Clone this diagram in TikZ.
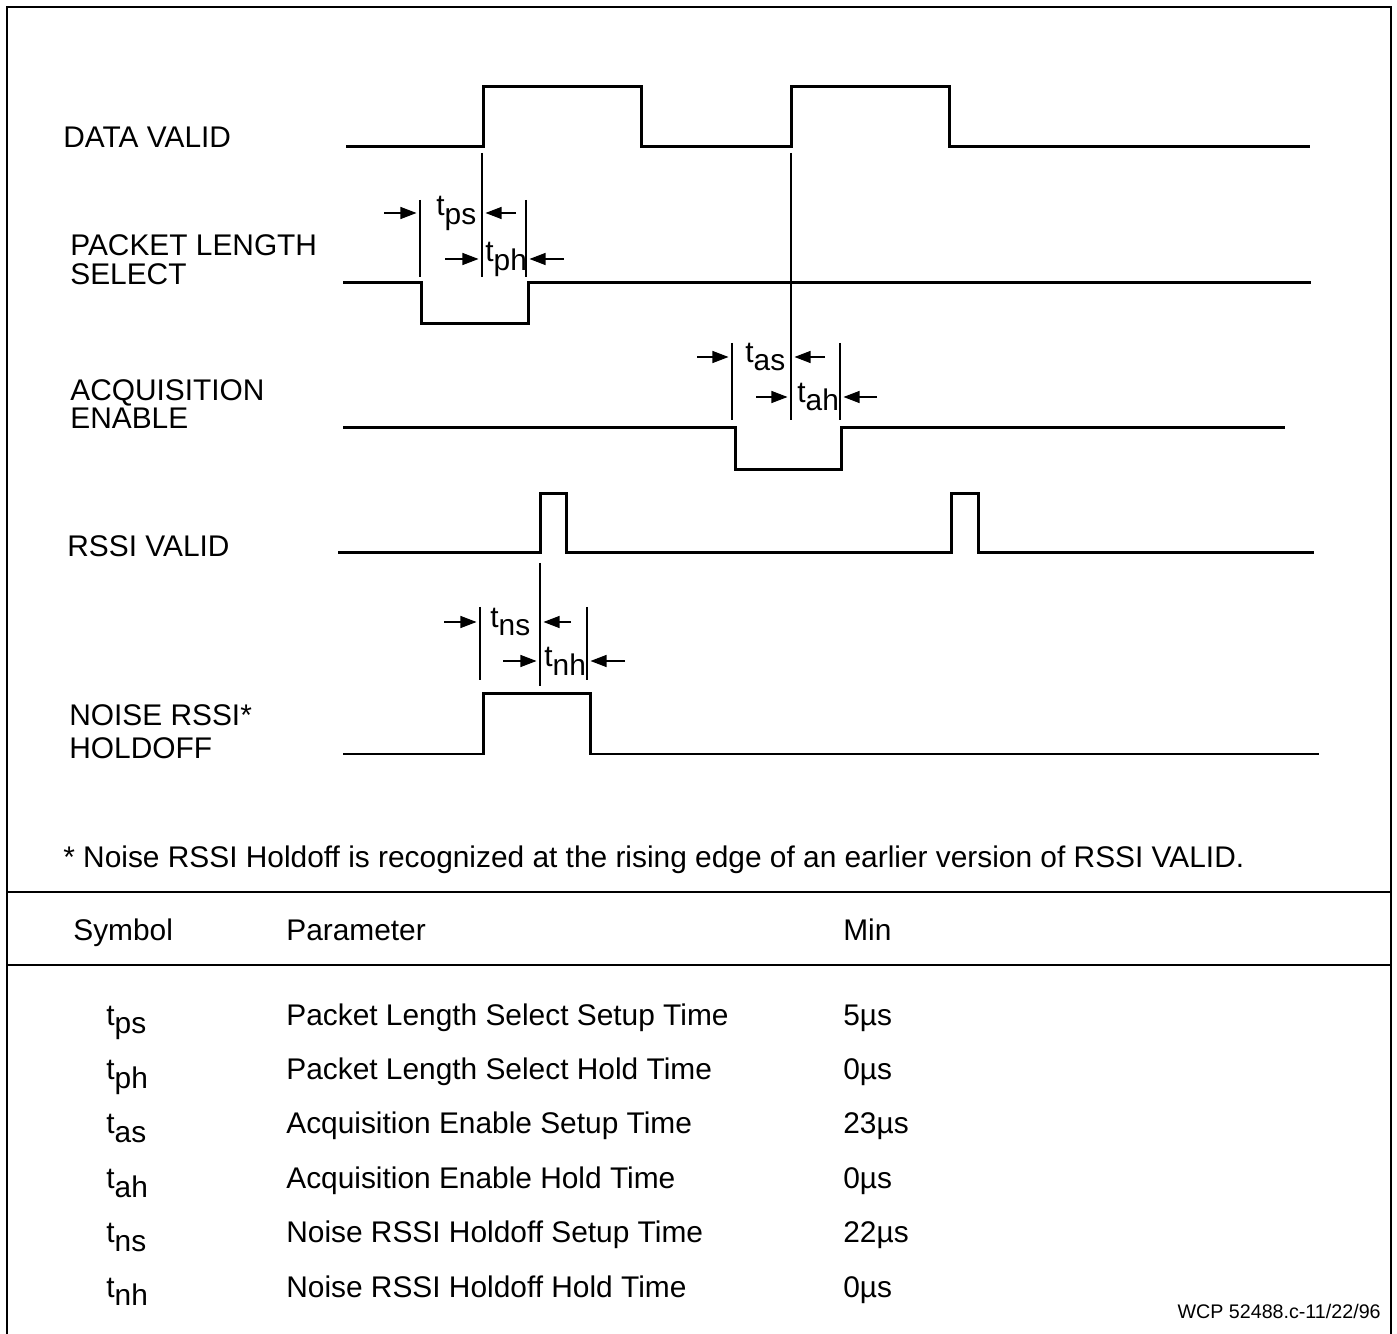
\documentclass[tikz,border=0pt]{standalone}
\usepackage{fontspec}
\setmainfont{Liberation Sans}
\usetikzlibrary{arrows.meta,positioning}
\tikzset{signal/.style={line width=0.06cm},
         frame/.style={line width=0.03cm},
         tick/.style={line width=0.022cm},
         dim/.style={line width=0.022cm,-{Triangle[length=0.32cm,width=0.24cm]}},
         lbl/.style={anchor=west,inner sep=0pt,align=left,font=\fontsize{17}{16.4}\selectfont},
         row/.style={anchor=base west,inner sep=0pt,font=\fontsize{17}{18}\selectfont}}
\newcommand{\tsub}[1]{t\raisebox{-0.3em}{#1}}

\begin{document}
\begin{tikzpicture}[x=0.02cm,y=-0.02cm]
    \useasboundingbox (0,0) rectangle (1397,1334);

    % frame and table rules
    \draw[frame] (7,1334) -- (7,7) -- (1391,7) -- (1391,1334);
    \draw[frame] (7,892) -- (1391,892);
    \draw[frame] (7,965) -- (1391,965);

    % signal names
    \node[lbl] (dv) at (63,137) {DATA VALID};
    \node[lbl] (pls) at (70,260) {PACKET LENGTH\\SELECT};
    \node[lbl] (acq) at (70,404) {ACQUISITION\\ENABLE};
    \node[lbl] (rssi) at (67,546) {RSSI VALID};
    \node[lbl] (noise) at (69,732) {NOISE RSSI*\\[2.6pt]HOLDOFF};

    % waveforms
    \draw[signal] (346,147) -- (483,147) -- (483,87) -- (641,87) -- (641,147) -- (791,147)
                  -- (791,87) -- (949,87) -- (949,147) -- (1310,147);
    \draw[signal] (343,283) -- (421,283) -- (421,324) -- (528,324) -- (528,283) -- (1311,283);
    \draw[signal] (343,428) -- (735,428) -- (735,470) -- (841,470) -- (841,428) -- (1285,428);
    \draw[signal] (338,553) -- (540,553) -- (540,494) -- (566,494) -- (566,553) -- (951,553)
                  -- (951,494) -- (978,494) -- (978,553) -- (1314,553);
    \draw[signal] (343,754) -- (483,754) -- (483,694) -- (590,694) -- (590,754) -- (1319,754);

    % reference edges
    \coordinate (dvA) at (482,153);
    \coordinate (dvB) at (791,153);
    \coordinate (rsA) at (540,563);
    \draw[tick] (dvA) -- ++(0,124);
    \draw[tick] (dvB) -- ++(0,267);
    \draw[tick] (rsA) -- ++(0,123);

    % setup / hold ticks
    \coordinate (psL) at (420,200);
    \coordinate (phR) at (526,200);
    \coordinate (asL) at (732,343);
    \coordinate (ahR) at (840,343);
    \coordinate (nsL) at (480,607);
    \coordinate (nhR) at (587,607);
    \foreach \c/\h in {psL/77,phR/77,asL/77,ahR/77,nsL/73,nhR/73}
        \draw[tick] (\c) -- ++(0,\h);

    % t_ps, t_ph
    \node[lbl] (tps) at (436,213) {\tsub{ps}};
    \node[lbl] (tph) at (485,259) {\tsub{ph}};
    \coordinate (a1) at (384,213);
    \coordinate (a2) at (516,213);
    \coordinate (a3) at (445,259);
    \coordinate (a4) at (564,259);
    \draw[dim] (a1) -- ([xshift=-2]a1 -| psL);
    \draw[dim] (a2) -- ([xshift=2]a2 -| dvA);
    \draw[dim] (a3) -- ([xshift=-2]a3 -| dvA);
    \draw[dim] (a4) -- ([xshift=2]a4 -| phR);

    % t_as, t_ah
    \node[lbl] (tas) at (745,357) {\tsub{as}};
    \node[lbl] (tah) at (797,397) {\tsub{ah}};
    \coordinate (b1) at (697,357);
    \coordinate (b2) at (825,357);
    \coordinate (b3) at (756,397);
    \coordinate (b4) at (877,397);
    \draw[dim] (b1) -- ([xshift=-2]b1 -| asL);
    \draw[dim] (b2) -- ([xshift=2]b2 -| dvB);
    \draw[dim] (b3) -- ([xshift=-2]b3 -| dvB);
    \draw[dim] (b4) -- ([xshift=2]b4 -| ahR);

    % t_ns, t_nh
    \node[lbl] (tns) at (490,622) {\tsub{ns}};
    \node[lbl] (tnh) at (544,661) {\tsub{nh}};
    \coordinate (c1) at (444,622);
    \coordinate (c2) at (571,622);
    \coordinate (c3) at (503,661);
    \coordinate (c4) at (625,661);
    \draw[dim] (c1) -- ([xshift=-2]c1 -| nsL);
    \draw[dim] (c2) -- ([xshift=2]c2 -| rsA);
    \draw[dim] (c3) -- ([xshift=-2]c3 -| rsA);
    \draw[dim] (c4) -- ([xshift=2]c4 -| nhR);

    \node[lbl] (note) at (63,860) {* Noise RSSI Holdoff is recognized at the rising edge of an earlier version of RSSI VALID.};

    % table
    \node[row] (hsym) at (73,940) {Symbol};
    \node[row] (hpar) at (286,940) {Parameter};
    \node[row] (hmin) at (843,940) {Min};
    \foreach \s/\p/\m [count=\i from 0] in {ps/Packet Length Select Setup Time/5µs,
                                           ph/Packet Length Select Hold Time/0µs,
                                           as/Acquisition Enable Setup Time/23µs,
                                           ah/Acquisition Enable Hold Time/0µs,
                                           ns/Noise RSSI Holdoff Setup Time/22µs,
                                           nh/Noise RSSI Holdoff Hold Time/0µs} {
        \node[row] (sym\i) at (106,1025+54.4*\i) {\tsub{\s}};
        \node[row] (par\i) at (286,1025+54.4*\i) {\p};
        \node[row] (min\i) at (843,1025+54.4*\i) {\m};
    }

    \node[anchor=base east,inner sep=0pt,font=\fontsize{11.2}{13}\selectfont] (ref) at (1381,1318) {WCP 52488.c-11/22/96};
\end{tikzpicture}
\end{document}
